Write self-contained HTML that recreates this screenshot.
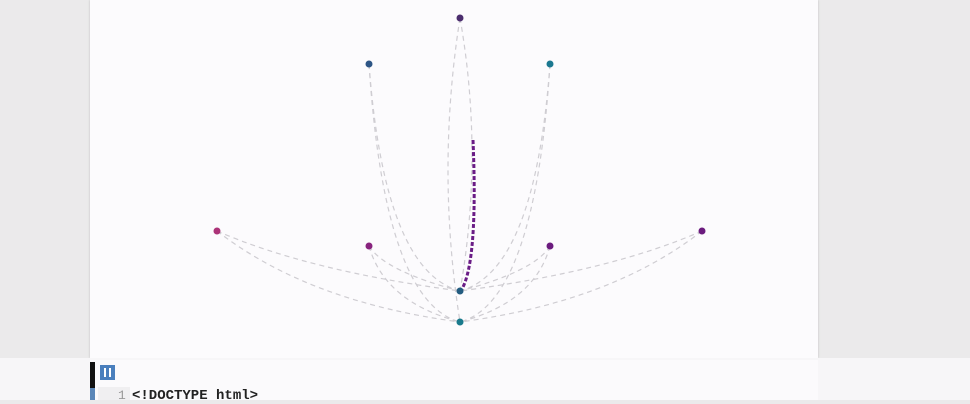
<!DOCTYPE html>
<html><head><style>
body{margin:0;width:970px;height:400px;overflow:hidden;background:#ebeaeb;font-family:"Liberation Sans",sans-serif;position:relative}
#panel{position:absolute;left:90px;top:0;width:728px;height:358px;background:#fcfbfd;box-shadow:0 0 2px #bbb}
#strip{position:absolute;left:0;top:358px;width:970px;height:42px;background:#f7f6f8}
#editor{position:absolute;left:90px;top:360px;width:728px;height:40px;background:#fbfafc}
</style></head><body>
<div id="panel">
<svg id="chart" width="728" height="358"></svg>
</div>
<div id="strip"></div>
<div id="editor">
 <div style="position:absolute;left:0;top:2px;width:5px;height:26px;background:#111"></div>
 <div style="position:absolute;left:0;top:28px;width:5px;height:12px;background:#5a86b8"></div>
 <div style="position:absolute;left:10px;top:5px;width:15px;height:15px;background:#4a7fbd">
  <div style="position:absolute;left:4px;top:3px;width:2px;height:9px;background:#fff"></div>
  <div style="position:absolute;left:9px;top:3px;width:2px;height:9px;background:#fff"></div>
 </div>
 <div style="position:absolute;left:8px;top:27px;width:32px;height:13px;background:#f0eff1"></div>
 <div style="position:absolute;left:28px;top:28px;font:13px 'Liberation Mono',monospace;color:#999">1</div>
 <div style="position:absolute;left:42px;top:28px;font:bold 14px 'Liberation Mono',monospace;color:#222">&lt;!DOCTYPE html&gt;</div>
</div>
<script>
const nodeX=[370,279,460,127,279,460,612,370,370];
const nodeY=[18,64,64,231,246,246,231,291,322];
const nodeColors=["#4b2d6e","#2d5585","#1b7890","#ac3378","#88237e","#6b1b7e","#6b1b7e","#235c80","#197a8c"];
const edgeFrom=[0,0,1,1,2,2,3,3,4,4,5,5,6,6];
const edgeTo=[7,8,7,8,7,8,7,8,7,8,7,8,7,8];
const ns="http://www.w3.org/2000/svg";
const svg=document.getElementById('chart');
function px(i){return nodeX[i];}
function py(i){return nodeY[i];}
for(let k=0;k<edgeFrom.length;k++){
 const a=edgeFrom[k],b=edgeTo[k];
 const x1=px(a),y1=py(a),x2=px(b),y2=py(b);
 const p=document.createElementNS(ns,'path');
 p.setAttribute('d',`M${x1},${y1} Q${a===0?x1+(k%2?-24:24):(x1+x2)/2+(x1<x2?-30:30)},${a===0?(y1+y2)/2:y2-20} ${x2},${y2}`);
 p.setAttribute('fill','none');p.setAttribute('stroke','#cfcdd2');p.setAttribute('stroke-width','1.2');p.setAttribute('stroke-dasharray','5,4');
 
 
 svg.appendChild(p);
}
const hl=document.createElementNS(ns,'path');
hl.setAttribute('d','M383,140 Q388,260 372,289');
hl.setAttribute('fill','none');hl.setAttribute('stroke','#6a1c86');hl.setAttribute('stroke-width','3');hl.setAttribute('stroke-dasharray','4,2');


svg.appendChild(hl);
for(let i=0;i<nodeX.length;i++){
 const c=document.createElementNS(ns,'circle');
 c.setAttribute('cx',px(i));c.setAttribute('cy',py(i));c.setAttribute('r',3.5);c.setAttribute('fill',nodeColors[i]);
 
 
 svg.appendChild(c);
}
</script>
</body></html>
